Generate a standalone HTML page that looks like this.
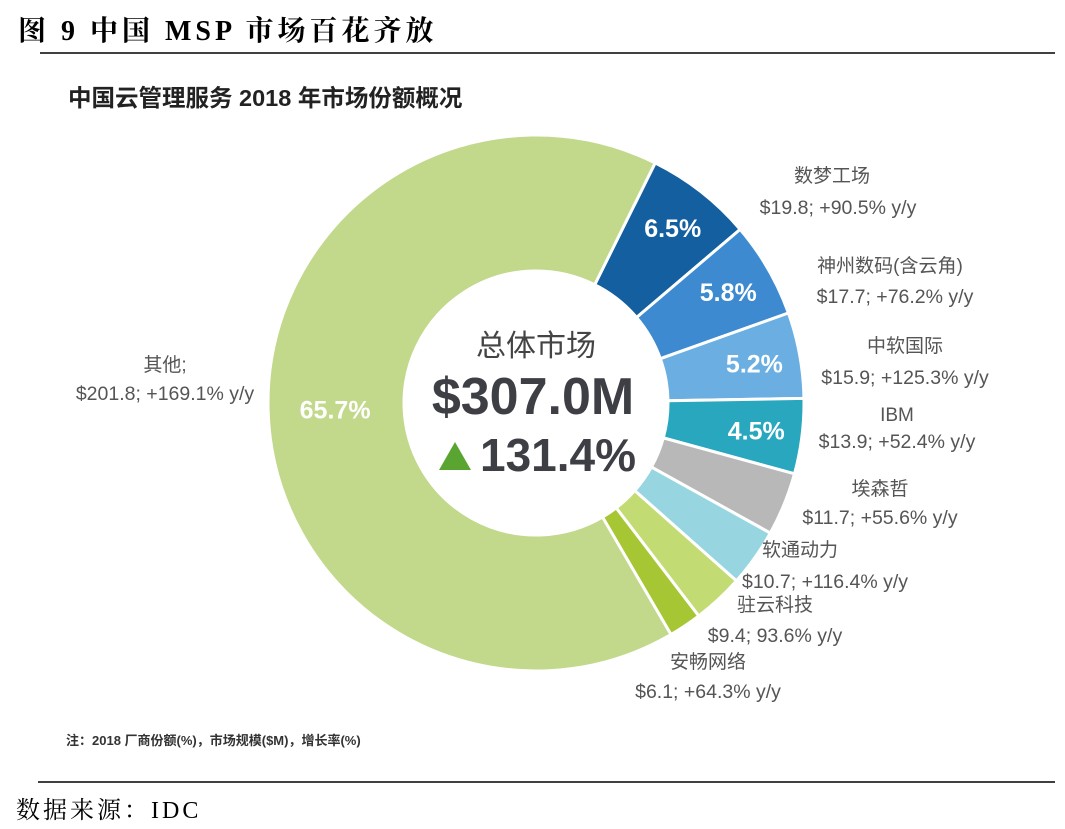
<!DOCTYPE html>
<html><head><meta charset="utf-8"><style>
body{margin:0;background:#fff;}
svg{display:block;font-family:"Liberation Sans","Noto Sans CJK SC",sans-serif;}
</style></head><body>
<svg width="1065" height="829" viewBox="0 0 1065 829">
<text x="18" y="40" font-family="Liberation Serif,'Noto Serif CJK SC',serif" font-size="28" font-weight="bold" fill="#000" letter-spacing="4">图 9 中国 MSP 市场百花齐放</text>
<line x1="40" y1="53" x2="1055" y2="53" stroke="#000" stroke-width="1.5"/>
<text x="68" y="106" font-size="23.5" font-weight="bold" fill="#222">中国云管理服务 2018 年市场份额概况</text>
<g id="donut"></g>
<g>
<text x="536" y="356" text-anchor="middle" font-size="30" fill="#444">总体市场</text>
<text x="533" y="414" text-anchor="middle" font-size="52" font-weight="bold" fill="#3d3f45">$307.0M</text>
<polygon points="439,470 471,470 455,442" fill="#5aa532"/>
<text x="480" y="471" font-size="46" font-weight="bold" fill="#3d3f45">131.4%</text>
</g>
<g id="labels"></g>
<text x="66" y="745" font-size="13" font-weight="bold" fill="#333">注：2018 厂商份额(%)，市场规模($M)，增长率(%)</text>
<line x1="38" y1="782" x2="1055" y2="782" stroke="#000" stroke-width="1.5"/>
<text x="16" y="818" font-family="Liberation Serif,'Noto Serif CJK SC',serif" font-size="24" letter-spacing="3" fill="#000">数据来源：IDC</text>
</svg>
<script>
const names=["数梦工场","神州数码(含云角)","中软国际","IBM","埃森哲","软通动力","驻云科技","安畅网络","其他;"];
const values=[19.8,17.7,15.9,13.9,11.7,10.7,9.4,6.1,201.8];
const growth=["+90.5%","+76.2%","+125.3%","+52.4%","+55.6%","+116.4%","93.6%","+64.3%","+169.1%"];
const shares=["6.5%","5.8%","5.2%","4.5%","","","","","65.7%"];
const colors=["#145fa0","#3d8ad0","#6aaee2","#29a7bf","#b8b8b8","#97d6e1","#c3db73","#a6c733","#c2d88b"];
const labelPos=[[832,182,838,214],[890,272,895,303],[905,352,905,384],[897,421,897,448],[880,495,880,524],[800,556,825,588],[775,611,775,642],[708,668,708,698],[165,371,165,400]];
const NS="http://www.w3.org/2000/svg";
const cx=536,cy=403,R=268,r0=132,start=26.4;
const total=values.reduce((a,b)=>a+b,0);
function pt(a,rad){const t=(a-90)*Math.PI/180;return [cx+rad*Math.cos(t),cy+rad*Math.sin(t)];}
const g=document.getElementById('donut');
let a=start;
values.forEach((v,i)=>{
  const sw=v/total*360,a1=a+sw;
  const p1=pt(a,R),p2=pt(a1,R),p3=pt(a1,r0),p4=pt(a,r0),lg=sw>180?1:0;
  const p=document.createElementNS(NS,'path');
  p.setAttribute('d',`M${p1}A${R},${R} 0 ${lg} 1 ${p2}L${p3}A${r0},${r0} 0 ${lg} 0 ${p4}Z`);
  p.setAttribute('fill',colors[i]);p.setAttribute('stroke','#fff');p.setAttribute('stroke-width','3');
  
  
  g.appendChild(p);
  if(shares[i]){
    const m=pt(a+sw/2,i===8?201:222);
    const t=document.createElementNS(NS,'text');
    t.setAttribute('x',m[0]);t.setAttribute('y',m[1]+9);t.setAttribute('text-anchor','middle');
    t.setAttribute('font-size','25');t.setAttribute('font-weight','bold');t.setAttribute('fill','#fff');
    t.textContent=shares[i];
    
    
    g.appendChild(t);
  }
  a=a1;
});
const L=document.getElementById('labels');
names.forEach((n,i)=>{
  const q=labelPos[i];
  const t1=document.createElementNS(NS,'text');
  t1.setAttribute('x',q[0]);t1.setAttribute('y',q[1]);t1.setAttribute('text-anchor','middle');
  t1.setAttribute('font-size','19');t1.setAttribute('fill','#555');t1.textContent=n;
  
  
  L.appendChild(t1);
  const t2=document.createElementNS(NS,'text');
  t2.setAttribute('x',q[2]);t2.setAttribute('y',q[3]);t2.setAttribute('text-anchor','middle');
  t2.setAttribute('font-size','19.5');t2.setAttribute('fill','#555');
  t2.textContent='$'+values[i]+'; '+growth[i]+' y/y';
  
  
  L.appendChild(t2);
});
</script>
</body></html>
